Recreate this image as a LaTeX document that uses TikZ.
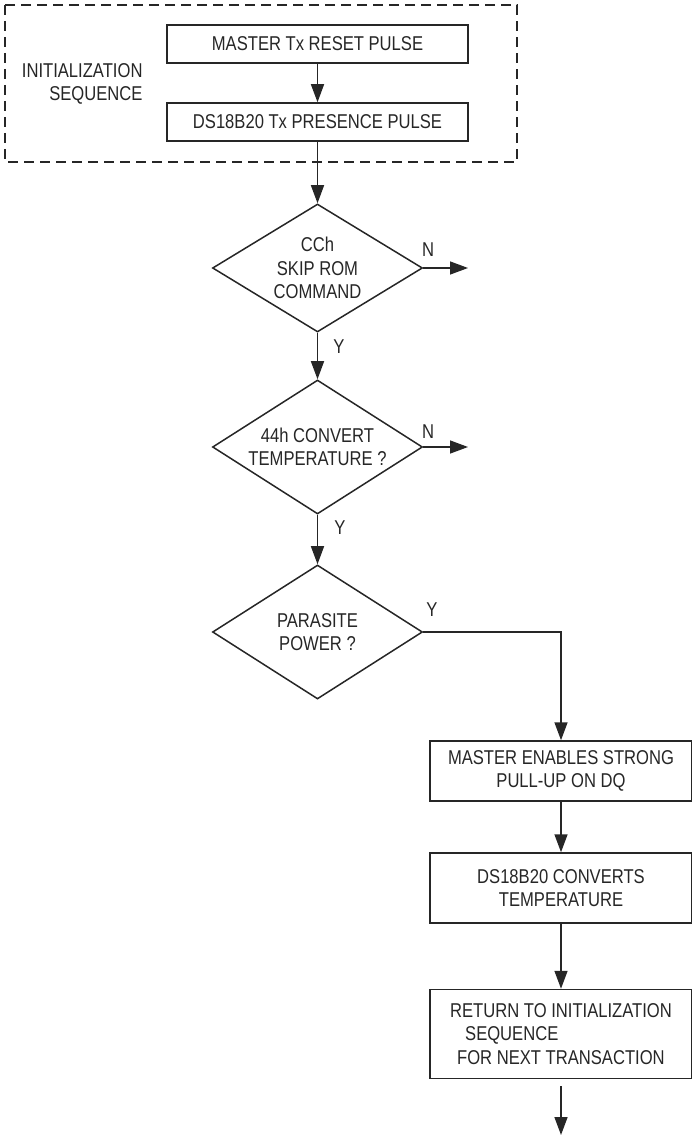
\documentclass[tikz,border=0pt]{standalone}
\usepackage{fontspec}
\setmainfont{Liberation Sans}[FakeStretch=0.83]
\usetikzlibrary{shapes.geometric,arrows.meta}
\tikzset{
  stepbox/.style={draw,line width=1.5pt,minimum height=38pt,inner sep=0pt,align=center},
  decision/.style={draw,diamond,line width=1.5pt,minimum width=210pt,minimum height=128pt,aspect=1.64,inner sep=0pt,align=center},
  flow/.style={-{Triangle[length=18pt,width=13pt]},line width=1.5pt},
}
\begin{document}
\begin{tikzpicture}[x=1pt,y=-1pt,font=\fontsize{20}{23.5}\selectfont,color=black!85]
\useasboundingbox (0,0) rectangle (692,1139);
% initialization sequence
\draw[dashed,dash pattern=on 10pt off 6pt,line width=1.5pt] (5,5) rectangle (517,162);
\node[anchor=east,align=right] (init) at (146,84) {INITIALIZATION\\SEQUENCE};
\node[stepbox,minimum width=301pt] (reset) at (317.5,44) {MASTER Tx RESET PULSE};
\node[stepbox,minimum width=301pt] (presence) at (317.5,122) {DS18B20 Tx PRESENCE PULSE};

% decisions
\node[decision] (skip) at (317.5,268) {CCh\\SKIP ROM\\COMMAND};
\node[decision,minimum height=134pt] (convert) at (317.5,447) {44h CONVERT\\TEMPERATURE ?};
\node[decision,minimum height=134pt] (parasite) at (317.5,632) {PARASITE\\POWER ?};

% conversion
\node[stepbox,minimum width=262pt,minimum height=60pt] (pullup) at (561,771) {MASTER ENABLES STRONG\\PULL-UP ON DQ};
\node[stepbox,minimum width=262pt,minimum height=70pt] (converts) at (561,888) {DS18B20 CONVERTS\\TEMPERATURE};
\node[stepbox,minimum width=262pt,minimum height=89pt,align=left] (return) at (561,1034) {RETURN TO INITIALIZATION\\\hspace*{15pt}SEQUENCE\\\hspace*{7pt}FOR NEXT TRANSACTION};

% free ends
\coordinate (skipno) at (468,268);
\coordinate (convertno) at (468,447);
\coordinate (endtop) at (561,1086);
\coordinate (endtip) at (561,1135);

% labels
\node (skipN) at (428,250) {N};
\node (skipY) at (339,347) {Y};
\node (convertN) at (428,432) {N};
\node (convertY) at (340,528) {Y};
\node (parasiteY) at (432,610) {Y};

\draw[flow] (reset) -- (presence);
\draw[flow] (presence) -- (skip);
\draw[flow] (skip) -- (convert);
\draw[flow] (convert) -- (parasite);
\draw[flow] (skip.east) -- (skipno);
\draw[flow] (convert.east) -- (convertno);
\draw[flow] (parasite.east) -| (pullup.north);
\draw[flow] (pullup) -- (converts);
\draw[flow] (converts) -- (return);
\draw[flow] (endtop) -- (endtip);
\end{tikzpicture}
\end{document}
